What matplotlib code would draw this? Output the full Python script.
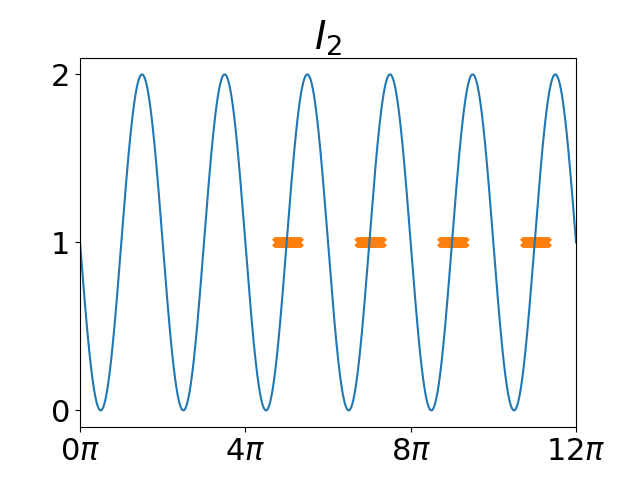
import numpy as np
import matplotlib
matplotlib.use("Agg")
import matplotlib.pyplot as plt

# curve I2 = 1 - sin(x) on [0, 12pi]
x_max = 12 * np.pi
x = np.linspace(0, x_max, 2000)
i2 = 1 - np.sin(x)

# orange marks at level 1, centred on these multiples of pi
seg_centres = [5.02, 7.02, 9.02, 11.02]
seg_half = 0.26
seg_level = 1.0

tick_vals = [0, 4, 8, 12]
tick_labels = [r"$0\pi$", r"$4\pi$", r"$8\pi$", r"$12\pi$"]

fig, ax = plt.subplots(figsize=(6.4, 4.8), dpi=100)
ax.plot(x, i2, zorder=2)
for c in seg_centres:
    xs = np.linspace((c - seg_half) * np.pi, (c + seg_half) * np.pi, 80)
    ax.plot(xs, np.full_like(xs, seg_level), color="C1", ls="none",
            marker="x", ms=6, mew=2.5, zorder=1)

ax.set_xlim(0, x_max)
ax.set_xticks([v * np.pi for v in tick_vals])
ax.set_xticklabels(tick_labels)
ax.set_yticks([0, 1, 2])
ax.tick_params(labelsize=22)
ax.set_title(r"$I_2$", fontsize=28)

fig.savefig("out.png")
